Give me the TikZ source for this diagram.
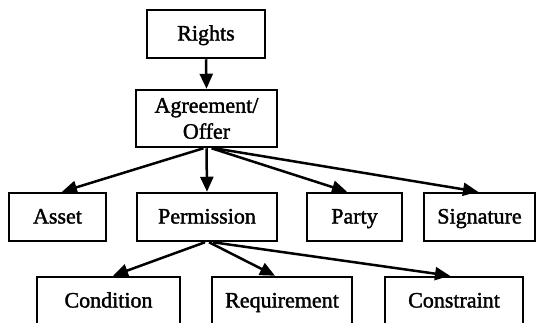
\documentclass[tikz,border=0pt]{standalone}
\usepackage{fontspec}
\setmainfont{Liberation Serif}[BoldFont=Liberation Serif, BoldFeatures={FakeBold=1.6}]
\usetikzlibrary{arrows.meta}
\begin{document}
\begin{tikzpicture}[x=1pt,y=1pt,
  box/.style={draw=black, line width=2.5pt, rectangle, inner sep=0pt, minimum height=48pt,
    font=\fontsize{22}{26}\selectfont\bfseries, align=center, text=black},
  one/.style={text height=17pt, text depth=4pt},
  arr/.style={line width=2.5pt, -{Triangle[length=15pt,width=13pt]}}]
\clip (0,0) rectangle (537,-322);
\fill[white] (0,0) rectangle (537,-322);
\node[box, one, minimum width=118pt] (ri) at (206,-34) {Rights};
\node[box, minimum width=141pt, minimum height=57pt] (ag) at (206.5,-118.5) {Agreement/\\Offer};
\node[box, one, minimum width=97pt] (as) at (57.5,-217) {Asset};
\node[box, one, minimum width=140pt] (pe) at (207,-217) {Permission};
\node[box, one, minimum width=95pt] (pa) at (354.5,-217) {Party};
\node[box, one, minimum width=111pt] (si) at (479.5,-217) {Signature};
\node[box, one, minimum width=143pt] (co) at (108.5,-301) {Condition};
\node[box, one, minimum width=140pt] (re) at (282,-301) {Requirement};
\node[box, one, minimum width=138pt] (cn) at (454,-301) {Constraint};
\draw[arr] (ri.south) -- (ag.north);
\draw[arr] ([xshift=-3pt]ag.south) -- ([xshift=4.5pt]as.north);
\draw[arr] (ag.south) -- (pe.north);
\draw[arr] ([xshift=5pt]ag.south) -- ([xshift=-7.5pt]pa.north);
\draw[arr] ([xshift=8pt]ag.south) -- ([xshift=-1.5pt]si.north);
\draw[arr] ([xshift=-2pt]pe.south) -- ([xshift=4.5pt]co.north);
\draw[arr] ([xshift=2pt]pe.south) -- ([xshift=-7pt]re.north);
\draw[arr] ([xshift=6pt]pe.south) -- ([xshift=-4pt]cn.north);
\end{tikzpicture}
\end{document}
